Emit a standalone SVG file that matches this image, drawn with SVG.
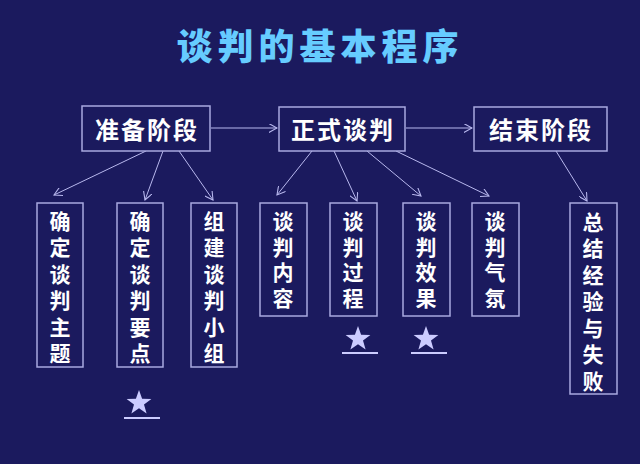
<svg xmlns="http://www.w3.org/2000/svg" width="640" height="464" viewBox="0 0 640 464">
<defs>
<style>
.bg{fill:#1b1a5e}
.box{fill:#1b1a5e;stroke:#a9a9e0;stroke-width:1.5}
.t{font-family:"Noto Sans CJK SC","Noto Sans CJK JP",sans-serif;font-weight:700;fill:#ffffff}
.h{font-size:24px;letter-spacing:2px;text-anchor:middle;dominant-baseline:central}
.v{font-size:21px;writing-mode:vertical-rl;text-orientation:upright;letter-spacing:5.5px}
.v4{letter-spacing:4.7px}
.title{font-family:"Noto Sans CJK SC",sans-serif;font-weight:900;font-size:36px;letter-spacing:5px;fill:#66ccff;text-anchor:middle}
.c{stroke:#b8b8ee;stroke-width:1;fill:none;marker-end:url(#ah)}
.star{fill:#ccccff}
.ul{stroke:#ccccff;stroke-width:2}
</style>
<marker id="ah" viewBox="0 0 10 10" refX="9" refY="5" markerWidth="9" markerHeight="9" markerUnits="userSpaceOnUse" orient="auto">
<path d="M0,0 L9,5 L0,10" fill="none" stroke="#b8b8ee" stroke-width="1.2"/>
</marker>
<path id="st" d="M0,-13 L3.1,-4.2 L12.4,-4 L5,1.6 L7.6,10.5 L0,5.2 L-7.6,10.5 L-5,1.6 L-12.4,-4 L-3.1,-4.2 Z"/>
</defs>
<rect class="bg" x="0" y="0" width="640" height="464"/>
<text class="title" x="320" y="60">谈判的基本程序</text>

<g id="connectors">
<line class="c" x1="211" y1="128" x2="277" y2="128"/>
<line class="c" x1="406" y1="128" x2="472" y2="128"/>
<line class="c" x1="146" y1="151" x2="54" y2="195"/>
<line class="c" x1="163" y1="151" x2="145" y2="200"/>
<line class="c" x1="179" y1="151" x2="213" y2="200"/>
<line class="c" x1="312" y1="151" x2="277" y2="195"/>
<line class="c" x1="334" y1="151" x2="357" y2="201"/>
<line class="c" x1="367" y1="151" x2="421" y2="196"/>
<line class="c" x1="396" y1="151" x2="489" y2="196"/>
<line class="c" x1="556" y1="151" x2="587" y2="201"/>
</g>

<g id="n-prep"><rect class="box" x="82" y="106" width="128" height="45"/><text class="t h" x="147" y="128">准备阶段</text></g>
<g id="n-formal"><rect class="box" x="279" y="107" width="126" height="44"/><text class="t h" x="343" y="128">正式谈判</text></g>
<g id="n-end"><rect class="box" x="474" y="107" width="133" height="44"/><text class="t h" x="541" y="128">结束阶段</text></g>

<g id="n-theme"><rect class="box" x="37" y="203" width="46" height="164"/><text class="t v" x="60" y="210.5">确定谈判主题</text></g>
<g id="n-points"><rect class="box" x="117" y="203" width="46" height="164"/><text class="t v" x="140" y="210.5">确定谈判要点</text></g>
<g id="n-team"><rect class="box" x="191" y="203" width="46" height="164"/><text class="t v" x="214" y="210.5">组建谈判小组</text></g>
<g id="n-content"><rect class="box" x="260" y="203" width="47" height="113"/><text class="t v v4" x="283" y="210.5">谈判内容</text></g>
<g id="n-process"><rect class="box" x="330" y="203" width="47" height="113"/><text class="t v v4" x="353" y="210.5">谈判过程</text></g>
<g id="n-effect"><rect class="box" x="403" y="203" width="47" height="113"/><text class="t v v4" x="426" y="210.5">谈判效果</text></g>
<g id="n-atmos"><rect class="box" x="472" y="203" width="47" height="113"/><text class="t v v4" x="495" y="210.5">谈判气氛</text></g>
<g id="n-summary"><rect class="box" x="570" y="203" width="47" height="191"/><text class="t v" x="593" y="211.5">总结经验与失败</text></g>

<g id="stars">
<use href="#st" class="star" x="139" y="403"/><line class="ul" x1="124" y1="418" x2="160" y2="418"/>
<use href="#st" class="star" x="358" y="339"/><line class="ul" x1="342" y1="353" x2="378" y2="353"/>
<use href="#st" class="star" x="426" y="339"/><line class="ul" x1="411" y1="353" x2="447" y2="353"/>
</g>
</svg>
